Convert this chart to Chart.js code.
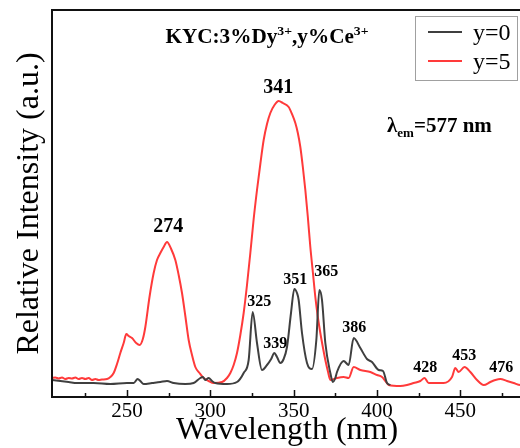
<!DOCTYPE html>
<html>
<head>
<meta charset="utf-8">
<script src="https://cdn.jsdelivr.net/npm/chart.js@4.4.0/dist/chart.umd.min.js"></script>
<style>
  html, body { margin: 0; padding: 0; overflow: hidden; background: #fff; }
  #wrap { width: 530px; height: 448px; }
</style>
</head>
<body>
<div id="wrap"><canvas id="myChart" width="530" height="448"></canvas></div>
<script>
// wavelength (nm) and relative intensity
const blackNm = [205, 210, 215, 220, 230, 240, 250, 254, 256.4, 258, 260, 265, 270, 274, 278, 285, 290, 294, 295.5, 297, 299, 301, 303, 310, 316, 320, 323, 325.4, 328, 331, 334, 336.5, 338.4, 340, 342, 344, 346, 348.4, 350.4, 352, 353, 355, 358, 361, 363.6, 365.4, 367, 369, 372, 373.5, 375, 376, 380, 383, 386, 390, 394, 397, 401, 403.6, 406, 408];
const blackInt = [17, 16, 15, 14, 14, 13, 14, 14, 18, 16, 13, 14, 15, 16, 14, 13, 14, 19, 20, 17, 19, 16, 14, 13, 15, 24, 37, 85, 54, 27, 32, 38, 44, 40, 34, 38, 50, 84, 108, 104, 97, 64, 34, 28, 57, 107, 97, 54, 24, 15, 19, 25, 36, 32, 59, 49, 38, 35, 27, 26, 14, 12];

const redNm = [205, 207, 209, 211, 213, 215, 217, 219, 221, 223, 225, 227, 229, 231, 233, 235, 238, 240, 242, 244, 246, 248, 249.6, 251, 253, 255.5, 257.6, 259.5, 261, 263.5, 266, 268, 270, 272, 274, 276.5, 279, 281, 283, 285, 287, 289, 291, 293.5, 296, 299, 302, 307, 310, 312, 314, 316, 318, 320, 322, 324, 326, 328, 330, 332, 334, 336, 338.5, 341, 343.5, 347, 349, 351, 352.5, 354, 355.5, 357, 358.5, 360, 361.5, 363, 364.5, 366, 367.5, 369, 370.5, 372, 376, 380, 383, 386, 390, 396, 400, 403, 405, 407, 414, 418, 422, 426, 428.5, 431, 436, 440, 445, 447, 449, 452.5, 456, 460, 464, 468, 471, 474, 478, 482, 486, 487];
const redInt = [19, 19.5, 18.5, 19.5, 18, 19, 18.5, 19.5, 18, 19, 18, 19, 17, 18, 17, 17.5, 18, 20, 24, 33, 44, 54, 63, 61, 59, 54, 52, 58, 70, 100, 124, 137, 144, 150, 155, 148, 137, 122, 104, 81, 57, 42, 30, 24, 19, 16, 14, 15, 19, 24, 32, 44, 62, 84, 112, 144, 178, 207, 233, 257, 273, 284, 292, 296, 294, 290, 283, 274, 264, 250, 230, 207, 180, 150, 125, 100, 80, 64, 50, 37, 26, 17, 19, 20, 19, 30, 27, 25, 22, 20, 16, 12, 11, 12, 14, 16, 19, 14, 14, 14, 20, 29, 25, 30, 25, 17, 12, 15, 17, 18, 16, 14, 12, 12];

const xTicks = [250, 300, 350, 400, 450];
const xMinorTicks = [225, 275, 325, 375, 425, 475];
const seriesNames = ["y=0", "y=5"];
const peakNames = ["274", "341", "325", "339", "351", "365", "386", "428", "453", "476"];

const serif = "'Liberation Serif', 'Times New Roman', serif";
const blackColor = "#3f3f3f";
const redColor = "#ff3a3a";

// where each peak label sits, in data units (nm, intensity), and its size
const peakSpots = [
  [274.8, 170, 20], [340.8, 309, 20], [329.4, 95, 16], [339, 53, 16], [351, 117, 16],
  [369.6, 125, 16], [386.4, 69, 16], [429, 29, 16], [452.4, 41, 16], [474.6, 29, 16]
];

const toPoints = (xs, ys) => xs.map((x, i) => ({ x: x, y: ys[i] }));

// draw text pieces one after another, with optional super/subscripts
const drawPieces = (ctx, pieces, x, y) => {
  let cx = x;
  pieces.forEach(p => {
    ctx.font = p.font;
    ctx.fillText(p.text, cx, y + (p.dy || 0));
    cx += ctx.measureText(p.text).width;
  });
};
const piecesWidth = (ctx, pieces) => {
  let w = 0;
  pieces.forEach(p => { ctx.font = p.font; w += ctx.measureText(p.text).width; });
  return w;
};

const extras = {
  id: "extras",
  afterDraw(chart) {
    const ctx = chart.ctx;
    const a = chart.chartArea;
    const xs = chart.scales.x;
    const ys = chart.scales.y;
    ctx.save();

    // frame
    ctx.strokeStyle = "#111";
    ctx.lineWidth = 2;
    ctx.strokeRect(a.left, a.top, a.right - a.left, a.bottom - a.top);

    // inward tick marks
    ctx.lineWidth = 1.5;
    ctx.beginPath();
    xTicks.forEach(v => {
      const px = Math.round(xs.getPixelForValue(v)) + 0.5;
      ctx.moveTo(px, a.bottom); ctx.lineTo(px, a.bottom - 7);
    });
    xMinorTicks.forEach(v => {
      const px = Math.round(xs.getPixelForValue(v)) + 0.5;
      ctx.moveTo(px, a.bottom); ctx.lineTo(px, a.bottom - 4);
    });
    ctx.stroke();

    // peak labels
    ctx.fillStyle = "#000";
    ctx.textAlign = "center";
    ctx.textBaseline = "middle";
    peakNames.forEach((name, i) => {
      const s = peakSpots[i];
      ctx.font = "bold " + s[2] + "px " + serif;
      ctx.fillText(name, xs.getPixelForValue(s[0]), ys.getPixelForValue(s[1]));
    });

    // title with superscripts
    ctx.textAlign = "left";
    ctx.textBaseline = "alphabetic";
    const big = "bold 20px " + serif;
    const sup = "bold 13px " + serif;
    const title = [
      { text: "KYC:3%Dy", font: big }, { text: "3+", font: sup, dy: -8 },
      { text: ",y%Ce", font: big }, { text: "3+", font: sup, dy: -8 }
    ];
    ctx.save();
    ctx.translate(267, 43);
    ctx.scale(1.06, 1);
    drawPieces(ctx, title, -piecesWidth(ctx, title) / 2, 0);
    ctx.restore();

    // lambda_em label
    const lam = [
      { text: "\u03bb", font: "bold 21px " + serif },
      { text: "em", font: "bold 13px " + serif, dy: 5 },
      { text: "=577 nm", font: "bold 21px " + serif }
    ];
    drawPieces(ctx, lam, 387, 132);

    // legend box
    ctx.strokeStyle = "#a0a0a0";
    ctx.lineWidth = 1;
    ctx.strokeRect(415.5, 16.5, 102, 64);
    const colors = [blackColor, redColor];
    const rows = [32, 61];
    seriesNames.forEach((name, i) => {
      ctx.strokeStyle = colors[i];
      ctx.lineWidth = 2;
      ctx.beginPath();
      ctx.moveTo(428, rows[i]); ctx.lineTo(462, rows[i]);
      ctx.stroke();
      ctx.fillStyle = "#000";
      ctx.font = "24px " + serif;
      ctx.textBaseline = "middle";
      ctx.fillText(name, 473, rows[i] + 2);
    });

    ctx.restore();
  }
};

const ctx = document.getElementById("myChart");

const chart = new Chart(ctx, {
  type: "line",
  data: {
    datasets: [
      {
        label: seriesNames[0],
        data: toPoints(blackNm, blackInt),
        borderColor: blackColor,
        borderWidth: 2,
        pointRadius: 0,
        cubicInterpolationMode: "monotone",
        fill: false,
      },
      {
        label: seriesNames[1],
        data: toPoints(redNm, redInt),
        borderColor: redColor,
        borderWidth: 2,
        pointRadius: 0,
        cubicInterpolationMode: "monotone",
        fill: false,
      },
    ],
  },
  options: {
    responsive: false,
    animation: false,
    layout: { padding: { top: 10, right: 8, left: 0, bottom: 0 } },
    plugins: { legend: { display: false }, tooltip: { enabled: false } },
    scales: {
      x: {
        type: "linear",
        min: 205,
        max: 487,
        afterFit: (s) => { s.height = 51; },
        afterBuildTicks: (s) => { s.ticks = xTicks.map(v => ({ value: v })); },
        grid: { display: false, drawTicks: false },
        border: { display: false },
        ticks: { font: { family: serif, size: 21 }, color: "#000", padding: 2, maxRotation: 0, autoSkip: false },
        title: { display: true, text: "Wavelength (nm)", color: "#000", padding: 0, font: { family: serif, size: 32, lineHeight: 1.1 } },
      },
      y: {
        min: 0,
        max: 387,
        afterFit: (s) => { s.width = 52; },
        ticks: { display: false },
        grid: { display: false },
        border: { display: false },
        title: { display: true, text: "Relative Intensity (a.u.)", color: "#000", padding: { top: 10, bottom: 0 }, font: { family: serif, size: 32 } },
      },
    },
  },
  plugins: [extras],
});
</script>
</body>
</html>
